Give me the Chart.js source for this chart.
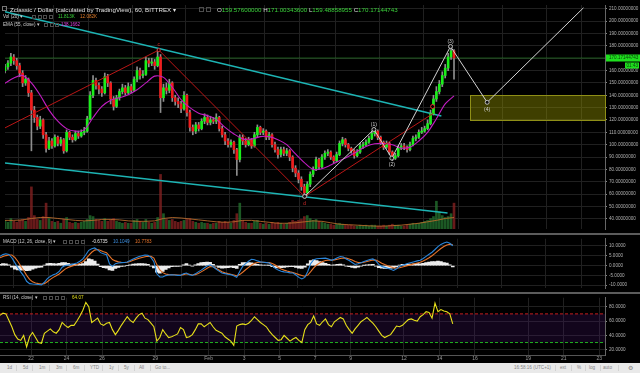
<!DOCTYPE html>
<html><head><meta charset="utf-8">
<script src="https://cdn.jsdelivr.net/npm/chart.js@4.4.1/dist/chart.umd.min.js"></script>
<style>
*{box-sizing:border-box}
html,body{margin:0;padding:0;background:#000;}
body{width:640px;height:373px;overflow:hidden;position:relative;font-family:"Liberation Sans",Arial,sans-serif;}
canvas{position:absolute;left:0;}
.t{position:absolute;white-space:nowrap;line-height:1;}
.ic{position:absolute;width:5px;height:5px;border:1px solid #4d4d4d;}
.sep{position:absolute;left:0;width:640px;height:2px;background:#5c5c5c;}
#bar{position:absolute;left:0;top:363px;width:640px;height:10px;background:#e9e9e9;color:#858585;font-size:4.6px;}
#bar span{position:absolute;top:3px;white-space:nowrap;line-height:1;}
#bar i{position:absolute;top:2px;width:1px;height:6px;background:#d2d2d2;}
</style></head><body>
<canvas id="cMain" width="640" height="234" style="top:0"></canvas>
<canvas id="cMacd" width="640" height="59" style="top:234px"></canvas>
<canvas id="cRsi" width="640" height="70" style="top:293px"></canvas>
<div class="sep" style="top:233px"></div>
<div class="sep" style="top:292px"></div>

<div class="ic" style="left:2px;top:6px;border-color:#777"></div>
<div class="t" style="left:10px;top:6.6px;font-size:6.2px;color:#e2e2e2">Zclassic / Dollar (calculated by TradingView), 60, BITTREX ▾</div>
<div class="ic" style="left:199px;top:7px"></div><div class="ic" style="left:206px;top:7px"></div>
<div class="t" style="left:217px;top:6.6px;font-size:6.2px;color:#dcdcdc">O<span style="color:#3ad23a">159.57600000</span> H<span style="color:#3ad23a">171.00343600</span> L<span style="color:#3ad23a">159.48858955</span> C<span style="color:#3ad23a">170.17144743</span></div>

<div class="t" style="left:3px;top:15px;font-size:4.6px;color:#cfcfcf">Vol (20) ▾</div>
<div class="ic" style="left:32px;top:15px;width:4px;height:4px"></div><div class="ic" style="left:37.5px;top:15px;width:4px;height:4px"></div><div class="ic" style="left:43px;top:15px;width:4px;height:4px"></div><div class="ic" style="left:48.5px;top:15px;width:4px;height:4px"></div>
<div class="t" style="left:58px;top:15px;font-size:4.6px;color:#3ad23a">11.813K</div>
<div class="t" style="left:80px;top:15px;font-size:4.6px;color:#e07b28">12.082K</div>

<div class="t" style="left:3px;top:22.8px;font-size:4.6px;color:#cfcfcf">EMA (55, close) ▾</div>
<div class="ic" style="left:44px;top:22.8px;width:4px;height:4px"></div><div class="ic" style="left:49.5px;top:22.8px;width:4px;height:4px"></div><div class="ic" style="left:55px;top:22.8px;width:4px;height:4px"></div>
<div class="t" style="left:61px;top:22.8px;font-size:4.6px;color:#e040e0">138.1662</div>

<div class="t" style="left:3px;top:239.5px;font-size:4.6px;color:#cfcfcf">MACD (12, 26, close, 9) ▾</div>
<div class="ic" style="left:63px;top:239.5px;width:4px;height:4px"></div><div class="ic" style="left:69px;top:239.5px;width:4px;height:4px"></div><div class="ic" style="left:75px;top:239.5px;width:4px;height:4px"></div><div class="ic" style="left:81px;top:239.5px;width:4px;height:4px"></div>
<div class="t" style="left:92px;top:239.5px;font-size:4.6px;color:#e6e6e6">-0.6735</div>
<div class="t" style="left:113px;top:239.5px;font-size:4.6px;color:#3d8fe0">10.1049</div>
<div class="t" style="left:135px;top:239.5px;font-size:4.6px;color:#e8742a">10.7783</div>

<div class="t" style="left:3px;top:296px;font-size:4.6px;color:#cfcfcf">RSI (14, close) ▾</div>
<div class="ic" style="left:43px;top:296px;width:4px;height:4px"></div><div class="ic" style="left:49px;top:296px;width:4px;height:4px"></div><div class="ic" style="left:55px;top:296px;width:4px;height:4px"></div><div class="ic" style="left:61px;top:296px;width:4px;height:4px"></div>
<div class="t" style="left:72px;top:296px;font-size:4.6px;color:#e5df1a">64.07</div>

<div id="bar">
<span style="left:7px">1d</span><i style="left:16px"></i>
<span style="left:23px">5d</span><i style="left:32px"></i>
<span style="left:39px">1m</span><i style="left:49px"></i>
<span style="left:56px">3m</span><i style="left:66px"></i>
<span style="left:73px">6m</span><i style="left:84px"></i>
<span style="left:90px">YTD</span><i style="left:102px"></i>
<span style="left:109px">1y</span><i style="left:118px"></i>
<span style="left:124px">5y</span><i style="left:134px"></i>
<span style="left:139px">All</span><i style="left:150px"></i>
<span style="left:155px">Go to...</span>
<span style="left:514px">16:58:16 (UTC+1)</span><i style="left:555px"></i>
<span style="left:560px">ext</span><i style="left:571px"></i>
<span style="left:577px">%</span><i style="left:585px"></i>
<span style="left:589px">log</span><i style="left:600px"></i>
<span style="left:603px">auto</span><i style="left:618px"></i>
<span style="left:628px;top:2px;font-size:6px">⚙</span>
</div>

<script>
// ---------- DATA (4-hour bars starting Jan 20 06:00) ----------
const firstOpen = 160;
const closes = [163,166,171,168,164,158,150,153,142,128, 122,115,120,108,97,103,99,106,101,104, 95,110,106,104,109,107,110,111,121,140, 152,148,145,142,155,150,137,131,138,143, 146,142,147,144,153,160,156,157,168,166, 167,164,171,138,146,144,150,138,135,133, 129,140,126,114,111,116,113,119,122,118, 120,119,122,113,108,103,100,102,96,88, 106,103,100,104,99,108,114,110,111,106, 108,100,96,92,96,93,95,90,81,77, 72,66,61,68,76,80,88,82,90,93, 94,90,87,92,101,104,100,97,95,91, 94,99,100,102,105,109,111,106,102,98, 101,94,89,91,97,99,98,96,100,105, 106,110,111,113,117,125,137,143,149,156, 162,171,176,170.17];
const highs = [165,168,174,173,170,166,160,156,154,144, 131,124,123,121,110,106,105,108,107,106, 105,112,111,108,111,111,112,114,123,143, 156,154,150,147,158,157,151,139,140,145, 149,148,150,149,155,163,162,160,171,170, 170,169,177,173,149,150,153,151,140,138, 135,143,141,128,116,118,118,121,125,124, 123,122,125,123,115,110,105,104,103,97, 108,108,105,106,105,110,116,115,113,112, 110,109,102,98,98,98,97,96,91,83, 79,74,68,70,78,82,90,89,92,95, 96,95,91,94,103,106,105,101,98,96, 96,101,102,104,107,111,113,112,107,103, 103,102,95,93,99,101,101,99,102,107, 108,112,114,115,120,128,140,147,152,159, 165,174,180,177];
const lows = [158,161,164,165,161,155,147,148,139,95, 118,112,113,105,94,96,97,98,99,99, 93,94,104,102,103,105,106,108,110,120, 138,145,141,139,141,147,133,128,130,136, 141,140,141,142,143,151,153,154,156,163, 164,161,163,126,135,141,142,135,132,130, 126,128,123,111,108,109,111,112,117,116, 116,117,117,111,106,100,98,98,93,75, 86,100,98,99,97,98,106,108,108,104, 104,98,94,89,90,91,91,87,78,74, 69,63,58,59,66,74,79,80,81,88, 91,88,85,86,91,99,98,95,93,89, 90,93,97,99,101,104,107,104,100,96, 97,92,87,88,90,96,96,94,95,99, 103,105,109,110,112,116,124,135,141,147, 154,160,169,153];
const volumes = [0.9,0.7,1.1,0.8,0.7,0.9,1.0,0.8,1.2,4.4, 1.4,1.0,0.9,1.3,2.7,1.1,0.8,0.7,0.8,0.6, 1.0,1.2,0.7,0.6,0.7,0.6,0.7,0.8,1.0,1.4, 1.3,1.0,0.9,0.8,1.1,0.8,1.0,1.1,0.8,0.7, 0.6,0.7,0.6,0.6,0.9,1.0,0.8,0.7,1.0,0.7, 0.6,0.7,1.2,5.7,1.6,1.0,0.9,1.0,0.8,0.7, 0.8,0.9,1.0,1.1,0.8,0.7,0.6,0.7,0.6,0.6, 0.5,0.6,0.6,0.8,0.7,0.8,0.7,0.6,0.9,1.6, 2.7,0.9,0.7,0.6,0.6,0.8,0.9,0.6,0.5,0.6, 0.5,0.7,0.6,0.7,0.6,0.5,0.6,0.7,0.9,0.8, 0.9,1.0,1.3,1.4,1.1,0.9,1.0,0.8,0.7,0.6, 0.5,0.5,0.4,0.5,0.6,0.5,0.4,0.4,0.4,0.3, 0.3,0.4,0.3,0.4,0.3,0.4,0.4,0.3,0.3,0.4, 0.3,0.4,0.5,0.4,0.4,0.3,0.3,0.4,0.5,0.6, 0.5,0.6,0.7,0.8,0.9,1.1,1.3,2.9,1.8,1.4, 1.2,1.3,1.6,2.7];
// 12-hour samples of smooth lines
const emaVals = [149.8,154,156,150,140,128,119,113,111,112, 122,131,136,138,140.5,144.5,150,155.5,154.5,146.5, 136.5,130,125.5,123.5,120.5,114,108.7,104.7,104.5,106.5, 106.5,104,100,92.5,85.5,80,80.5,83.5,87,90.5, 94.5,98.5,100.7,101,100,97.2,98,103,110,121, 133,139.5];
const volMaVals = [0.9,0.9,0.95,1.1,1.2,1.2,1.1,1.0,0.9,0.85, 0.9,1.0,1.0,0.95,0.85,0.8,0.8,0.85,1.1,1.2, 1.15,1.05,0.95,0.85,0.75,0.7,0.75,0.9,0.9,0.8, 0.7,0.6,0.6,0.65,0.75,0.85,0.8,0.65,0.5,0.45, 0.4,0.35,0.3,0.3,0.35,0.4,0.5,0.6,0.75,0.9, 1.1,1.2];
const macdVals = [4.7,5.6,6,5.7,4,1.5,-1,-3.2,-5.2,-8, -9.2,-9.4,-9.5,-9.6,-9.8,-8.5,-6.6,-5.5,-4.7,-4.1, -3,-0.8,0,0.3,0.5,0.9,1.3,2.2,3.4,5.5, 7.8,8.6,9,8,6.6,6,5.5,0.8,-0.4,1, 1.3,1.5,1.6,1.8,2.6,3.4,4,4.6,5,5.4, 5.3,4.2,2,-4.2,-5.8,-5.8,-5.1,-4.8,-4.7,-4.8, -5,-5,-4.2,-3.8,-4.6,-5,-4.2,-3.2,-2.3,-1.2, -0.2,0.4,-0.6,-1.7,-2.8,-3.8,-4.1,-4.4,-4.6,-5.2, -6,-3,-0.4,1,2.2,3.2,3,2.4,1.9,1.7, 1.5,1.3,0,-1.4,-2.3,-2.9,-3.2,-3.4,-3.7,-3.8, -4.8,-6,-6.8,-6,-3,1,3,3.5,3.6,3.7, 3.8,3.4,2.7,3.2,4,4.6,4.4,3.4,2.6,1.6, 0.6,0.9,1.5,2.1,2.6,3.1,3.4,2.4,0.6,-0.4, -0.9,-1.4,-1.9,-2.5,-1.6,-0.4,0.2,0.7,1.2,1.6, 2,2.4,2.7,3.6,4.7,5.8,6.8,8.2,9.7,10.8, 11.5,12,11.4,10.1];
const signalVals = [4,4.6,5.1,5.4,5.4,4.2,2.2,-0.2,-2.5,-5, -7,-8.3,-8.9,-9.2,-9.4,-9.2,-8.2,-7,-6,-5.2, -4.3,-3,-1.8,-1,-0.4,0.1,0.6,1.2,2,3.4, 5.2,6.8,7.9,8.2,7.7,7.1,6.6,4.8,3.1,2.4, 1.9,1.7,1.6,1.7,2.1,2.7,3.2,3.7,4.1,4.5, 4.8,4.7,3.8,0.5,-2.2,-3.6,-4.3,-4.6,-4.7,-4.7, -4.8,-4.9,-4.6,-4.2,-4.4,-4.8,-4.6,-4,-3.2,-2.3, -1.4,-0.5,-0.6,-1.3,-2.2,-3.1,-3.7,-4.1,-4.4,-4.8, -5.2,-4.6,-3.4,-2.1,-0.9,0.3,1.2,1.6,1.7,1.7, 1.6,1.5,1.1,0.3,-0.8,-1.7,-2.3,-2.8,-3.2,-3.5, -4,-4.6,-5,-5.4,-4.8,-3.1,-1.2,0.3,1.3,2.1, 2.6,2.8,2.8,2.9,3.2,3.6,3.9,3.8,3.4,2.8, 2.1,1.6,1.5,1.7,2.1,2.5,2.9,2.8,2.1,1.2, 0.5,-0.1,-0.6,-1.1,-1.3,-1.1,-0.7,-0.3,0.1,0.5, 0.9,1.3,1.7,2.3,3.1,4,5,6.2,7.5,8.7, 9.7,10.5,10.9,10.78];
const histVals = [0.6,1,0.9,0.4,-0.8,-1.8,-2.2,-2.3,-2.2,-2.6, -2.4,-1.8,-1.3,-0.9,-0.8,0.2,1,1.2,1,0.9, 1.1,1.6,1.5,1.2,0.8,0.6,0.5,0.6,1,2, 3.4,3.1,2.3,0.8,-0.5,-1,-1.3,-2.2,-2.4,-1.4, -0.9,-0.4,-0.2,0,0.4,0.8,0.9,1,1,0.9, 0.6,-0.2,-1.2,-3.4,-3.8,-3,-2,-1.2,-0.6,-0.4, -0.4,-0.3,0.4,1,0.3,-0.3,0.4,1,1.5,1.7, 1.8,1.7,0.6,-0.3,-0.9,-1.3,-1.2,-1,-0.8,-1.1, -1.5,0.6,1.5,1.6,1.5,1.4,1,0.6,0.4,0.3, 0.2,0.1,-0.5,-1,-1.2,-1.1,-0.9,-0.7,-0.6,-0.5, -0.9,-1.3,-1.5,-0.8,0.9,2.6,3,2.6,2,1.5, 1.2,0.7,0.2,0.4,0.6,0.8,0.4,-0.2,-0.6,-0.9, -1.2,-0.8,-0.3,0.1,0.4,0.5,0.6,-0.2,-1,-1.3, -1.4,-1.4,-1.3,-1.2,-0.5,0.3,0.6,0.7,0.8,0.8, 0.9,1,0.9,1.2,1.5,1.8,2,2.1,2.3,2, 1.6,1.3,0.4,-0.67];
const rsiVals = [68,71,70,61,52,41,35,33,40,24, 38,44,37,30,29,43,46,49,45,43, 48,58,54,51,54,54,60,67,75,86, 80,58,61,64,56,54,57,58,48,41, 47,54,60,66,61,58,64,69,71,64, 62,57,52,32,37,48,42,37,38,40, 42,51,48,37,38,41,48,56,56,52, 55,58,52,47,45,43,38,35,32,26, 53,55,56,55,57,61,66,62,58,55, 52,46,41,37,33,34,40,36,32,35, 37,33,30,48,55,58,67,56,54,59, 63,55,52,59,62,65,63,54,48,43, 49,54,59,62,65,61,57,52,46,40, 37,39,41,47,53,52,54,58,62,63, 61,60,66,69,73,72,64,85,73,76, 74,73,70,56];

// axis ticks
const dateTickDays = [0,2,4,7,10,12,14,16,18,21,23,25,28,30,32]; // days after Jan 22
const dateTickLabels = ['22','24','26','29','Feb','3','5','7','9','12','14','16','19','21','23'];
const priceTicks = [210,200,190,180,170,160,150,140,130,120,110,100,90,80,70,60,50,40];
const macdTicks = [10,5,0,-5,-10];
const rsiTicks = [80,60,40,20];
const rsiUpper = 70, rsiLower = 30;

// drawings (x in 4h bars, y in price)
const upperChannelX = [0,148.7], upperChannelY = [207.7,123.2];
const lowerChannelX = [0,150.8], lowerChannelY = [85.2,44.6];
const redPathX = [0,52.4,102.1], redPathY = [113.6,176.6,58.1];
const redRiseX = [102.1,145.9], redRiseY = [58.1,125.3];
const redMarkX = [145.7], redMarkY = [130.9];
const waveX = [102.1,125.7,131.8,151.8,164.3,197.1], waveY = [58.1,112.3,89.1,179.5,134.3,210.8];
const noteTexts = ['c','d','(1)','(2)','(3)','(4)'];
const noteX = [52.4,102.1,125.7,131.8,151.8,164.3];
const noteY = [176.6,58.1,112.3,89.1,179.5,134.3];
const noteAbove = [true,false,true,false,true,false];
const boxFromBar = 158.5, boxTop = 140, boxBottom = 120;
const lastPriceText = '170.17144743', countdownText = '01:43';

// ---------- SCALES ----------
const BARS_PER_DAY = 6, FIRST_BAR_DAY = -1.75;
const X_MIN = 0, X_MAX = 204.45;
const dateTickPos = dateTickDays.map(d => (d - FIRST_BAR_DAY) * BARS_PER_DAY);
const lastPrice = closes[closes.length - 1];
const opens = closes.map((c, i) => i === 0 ? firstOpen : closes[i - 1]);
const up = closes.map((c, i) => c >= opens[i]);
const pts = (xs, ys) => xs.map((x, i) => ({x, y: ys[i]}));
const idx = arr => arr.map((v, i) => ({x: i, y: v}));
const half = arr => arr.map((v, i) => ({x: i * 3, y: v}));

const GRID = '#202020', AXISC = '#b2b2b2', FONT = 'Liberation Sans';
function xScale(showLabels) {
  return {
    type: 'linear', min: X_MIN, max: X_MAX, offset: false,
    afterBuildTicks: s => { s.ticks = dateTickPos.map(v => ({value: v})); },
    ticks: {display: showLabels, color: '#9c9c9c', font: {size: 5, family: FONT}, padding: 1, maxRotation: 0, autoSkip: false,
      callback: (v, i) => dateTickLabels[i]},
    grid: {color: GRID, drawTicks: false},
    border: {display: showLabels, color: '#555'},
    afterFit: s => { s.height = showLabels ? 8 : 0; }
  };
}
function yScale(min, max, ticks, digits) {
  return {
    position: 'right', min, max,
    afterBuildTicks: s => { s.ticks = ticks.map(v => ({value: v})); },
    ticks: {color: AXISC, font: {size: 4.6, family: FONT}, padding: 2, callback: v => Number(v).toFixed(digits)},
    grid: {color: GRID, tickColor: '#888', tickLength: 2},
    border: {color: '#666'},
    afterFit: s => { s.width = 35; }
  };
}
const base = {responsive: false, animation: false, events: [], layout: {padding: 0},
  plugins: {legend: {display: false}, tooltip: {enabled: false}}};

const mainOverlay = {
  id: 'mainOverlay',
  beforeDatasetsDraw(chart) {
    const {ctx, chartArea: a, scales: {x, y}} = chart;
    const x0 = Math.round(x.getPixelForValue(boxFromBar)), x1 = a.right;
    const y0 = Math.round(y.getPixelForValue(boxTop)), y1 = Math.round(y.getPixelForValue(boxBottom));
    ctx.save();
    ctx.fillStyle = 'rgba(150,150,0,0.42)';
    ctx.fillRect(x0, y0, x1 - x0, y1 - y0);
    ctx.strokeStyle = '#8f8f17'; ctx.lineWidth = 1;
    ctx.strokeRect(x0 + 0.5, y0 + 0.5, x1 - x0, y1 - y0);
    ctx.restore();
  },
  afterDatasetsDraw(chart) {
    const {ctx, scales: {x, y}} = chart;
    ctx.save();
    ctx.font = '5px ' + FONT; ctx.textAlign = 'center'; ctx.textBaseline = 'middle';
    noteTexts.forEach((t, i) => {
      const px = x.getPixelForValue(noteX[i]), py = y.getPixelForValue(noteY[i]);
      ctx.fillStyle = (t === 'c' || t === 'd') ? '#d42a2a' : '#d0d0d0';
      ctx.fillText(t, px, py + (noteAbove[i] ? -5 : 7));
    });
    ctx.restore();
  },
  afterDraw(chart) {
    const {ctx, chartArea: a, scales: {y}} = chart;
    const yy = y.getPixelForValue(lastPrice);
    ctx.save();
    ctx.fillStyle = '#1ee01e';
    ctx.fillRect(a.right + 1, yy - 3.5, chart.width - a.right - 1, 7);
    ctx.fillRect(chart.width - 15, yy + 4.5, 14, 6);
    ctx.fillStyle = '#0b3a0b'; ctx.font = '4.6px ' + FONT; ctx.textBaseline = 'middle';
    ctx.fillText(lastPriceText, a.right + 4, yy);
    ctx.fillText(countdownText, chart.width - 13.5, yy + 7.6);
    ctx.restore();
  }
};

new Chart(document.getElementById('cMain'), {
  type: 'bar',
  data: {datasets: [
    {type: 'bar', yAxisID: 'yv', data: idx(volumes), backgroundColor: up.map(u => u ? 'rgba(35,110,45,0.8)' : 'rgba(130,32,32,0.8)'), barThickness: 2, grouped: false, order: 30},
    {type: 'line', yAxisID: 'yv', data: half(volMaVals), borderColor: 'rgba(190,110,45,0.85)', borderWidth: 1, pointRadius: 0, order: 29},
    {type: 'line', data: pts([X_MIN, X_MAX], [lastPrice, lastPrice]), borderColor: 'rgba(40,150,40,0.55)', borderWidth: 1, pointRadius: 0, order: 28},
    {type: 'line', data: pts(upperChannelX, upperChannelY), borderColor: '#1db4b4', borderWidth: 1.6, pointRadius: 0, order: 25},
    {type: 'line', data: pts(lowerChannelX, lowerChannelY), borderColor: '#1db4b4', borderWidth: 1.6, pointRadius: 0, order: 25},
    {type: 'bar', data: lows.map((l, i) => ({x: i, y: [l, highs[i]]})), backgroundColor: '#8e8e8e', barThickness: 1, grouped: false, order: 20},
    {type: 'bar', data: closes.map((c, i) => ({x: i, y: [opens[i], c]})), backgroundColor: up.map(u => u ? '#19f019' : '#f01c1c'), barThickness: 2, minBarLength: 1, grouped: false, order: 19},
    {type: 'line', data: half(emaVals), borderColor: '#c21dc2', borderWidth: 1.1, pointRadius: 0, tension: 0.3, order: 15},
    {type: 'line', data: pts(redPathX, redPathY), borderColor: '#bb1616', borderWidth: 1, pointRadius: [0, 1.5, 1.5], pointBackgroundColor: '#000', pointBorderColor: '#d42a2a', order: 10},
    {type: 'line', data: pts(redRiseX, redRiseY), borderColor: '#bb1616', borderWidth: 1, pointRadius: 0, order: 10},
    {type: 'line', data: pts(redMarkX, redMarkY), showLine: false, pointRadius: 2, pointBackgroundColor: '#000', pointBorderColor: '#e03030', order: 9},
    {type: 'line', data: pts(waveX, waveY), borderColor: '#d4d4d4', borderWidth: 1, pointRadius: [2, 2, 2, 2, 2, 0], pointBackgroundColor: '#111', pointBorderColor: '#bdbdbd', pointBorderWidth: 1, order: 5}
  ]},
  options: {...base, scales: {x: xScale(false), y: yScale(31.7, 213.1, priceTicks, 8), yv: {display: false, min: 0, max: 23.4}}},
  plugins: [mainOverlay]
});

new Chart(document.getElementById('cMacd'), {
  type: 'bar',
  data: {datasets: [
    {type: 'bar', data: idx(histVals), backgroundColor: '#ececec', barThickness: 3, grouped: false, order: 5},
    {type: 'line', data: idx(signalVals), borderColor: '#e8742a', borderWidth: 1.1, pointRadius: 0, order: 3},
    {type: 'line', data: idx(macdVals), borderColor: '#2a86db', borderWidth: 1.1, pointRadius: 0, order: 2}
  ]},
  options: {...base, scales: {x: xScale(false), y: yScale(-11.54, 13.68, macdTicks, 4)}}
});

new Chart(document.getElementById('cRsi'), {
  type: 'line',
  data: {datasets: [
    {data: pts([X_MIN, X_MAX], [rsiUpper, rsiUpper]), borderColor: '#c41e1e', borderDash: [3, 2], borderWidth: 1, pointRadius: 0, fill: '+1', backgroundColor: 'rgba(75,22,115,0.24)', order: 5},
    {data: pts([X_MIN, X_MAX], [rsiLower, rsiLower]), borderColor: '#20b020', borderDash: [3, 2], borderWidth: 1, pointRadius: 0, fill: false, order: 4},
    {data: idx(rsiVals), borderColor: '#e6df1a', borderWidth: 1.1, pointRadius: 0, fill: false, order: 1}
  ]},
  options: {...base, scales: {x: xScale(true), y: yScale(12.6, 92.5, rsiTicks, 4)}}
});
</script>
</body></html>
